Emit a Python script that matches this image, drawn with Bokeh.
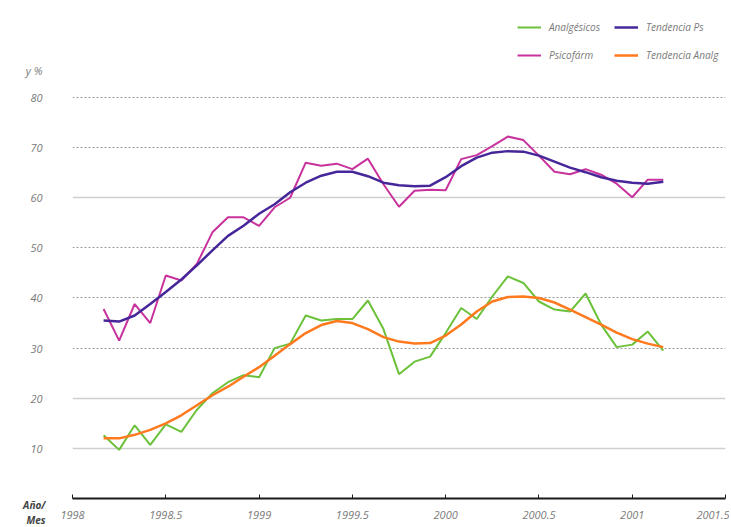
from bokeh.plotting import figure
from bokeh.models import Range1d, FixedTicker, Grid, Legend, LegendItem, Label
from bokeh.embed import file_html
from bokeh.resources import INLINE

# Monthly observations, March 1998 .. March 2001
month_index = list(range(37))
years = [1998 + (m + 2) / 12 for m in month_index]

analgesicos = [12.6, 9.7, 14.6, 10.7, 14.8, 13.3, 17.7, 21.0, 23.2, 24.6,
               24.2, 30.0, 30.9, 36.5, 35.5, 35.8, 35.8, 39.5, 33.8, 24.8,
               27.3, 28.3, 33.0, 38.0, 35.8, 40.3, 44.3, 43.0, 39.3, 37.7,
               37.3, 40.9, 34.7, 30.2, 30.7, 33.3, 29.5]
psicofarm = [37.8, 31.5, 38.8, 35.0, 44.5, 43.5, 46.8, 53.1, 56.1, 56.1,
             54.4, 58.1, 60.0, 67.0, 66.4, 66.8, 65.7, 67.8, 62.7, 58.2,
             61.4, 61.6, 61.5, 67.7, 68.5, 70.3, 72.2, 71.5, 68.4, 65.2,
             64.7, 65.7, 64.6, 62.8, 60.1, 63.6, 63.6]
tendencia_ps = [35.5, 35.3, 36.5, 38.8, 41.2, 43.7, 46.5, 49.5, 52.4, 54.4,
                56.8, 58.7, 61.1, 63.0, 64.4, 65.2, 65.2, 64.3, 63.0, 62.5,
                62.3, 62.4, 64.1, 66.3, 68.0, 69.0, 69.3, 69.2, 68.4, 67.2,
                66.0, 65.1, 64.1, 63.4, 63.0, 62.8, 63.2]
tendencia_analg = [12.0, 12.0, 12.7, 13.7, 15.0, 16.6, 18.6, 20.6, 22.3, 24.3,
                   26.2, 28.5, 30.8, 33.0, 34.6, 35.4, 35.0, 33.8, 32.2, 31.3,
                   30.9, 31.0, 32.5, 34.7, 37.3, 39.3, 40.2, 40.3, 40.0, 39.1,
                   37.7, 36.2, 34.7, 33.1, 31.8, 30.9, 30.2]

x_ticks = [1998, 1998.5, 1999, 1999.5, 2000, 2000.5, 2001, 2001.5]
x_tick_labels = ["1998", "1998.5", "1999", "1999.5", "2000", "2000.5", "2001", "2001.5"]
y_ticks = [10, 20, 30, 40, 50, 60, 70, 80]
y_dotted = [30, 40, 50, 70, 80]
y_solid = [10, 20, 60]
y_title = "y %"
y_title_at = 85.4          # the unit caption sits in the tick-label column above 80
x_title = "Año/\nMes"

series_names = ["Analgésicos", "Psicofárm", "Tendencia Ps", "Tendencia Analg"]

FONT = "Open Sans"
LABEL_COLOR = "#7a7a7a"

p = figure(width=729, height=526,
           x_range=Range1d(1998, 2001.5), y_range=Range1d(0, 99.35),
           output_backend="svg", toolbar_location=None,
           min_border_left=70, min_border_right=4,
           min_border_top=0, min_border_bottom=28)
p.outline_line_color = None
p.background_fill_color = "white"
p.xgrid.visible = False
p.ygrid.visible = False

p.add_layout(Grid(dimension=1, ticker=FixedTicker(ticks=y_dotted),
                  grid_line_color="#9a9a9a", grid_line_dash="2 2", grid_line_width=1))
p.add_layout(Grid(dimension=1, ticker=FixedTicker(ticks=y_solid),
                  grid_line_color="#cfcfcf", grid_line_width=1.5))

xa = p.xaxis[0]
xa.axis_label = None
xa.ticker = FixedTicker(ticks=x_ticks)
xa.major_label_overrides = dict(zip(x_ticks, x_tick_labels))
xa.axis_line_width = 2
xa.axis_line_color = "#1a1a1a"
xa.major_tick_in = 4
xa.major_tick_out = 0
xa.major_tick_line_color = "#1a1a1a"
xa.minor_tick_line_color = None
xa.major_label_text_font = FONT
xa.major_label_text_font_style = "italic"
xa.major_label_text_font_size = "11px"
xa.major_label_text_color = LABEL_COLOR
xa.major_label_standoff = 12

ya = p.yaxis[0]
ya.axis_label = None
ya.ticker = FixedTicker(ticks=y_ticks + [y_title_at])
ya.major_label_overrides = {y_title_at: y_title}
ya.axis_line_color = None
ya.major_tick_line_color = None
ya.minor_tick_line_color = None
ya.major_label_text_font = FONT
ya.major_label_text_font_style = "italic"
ya.major_label_text_font_size = "11px"
ya.major_label_text_color = LABEL_COLOR
ya.major_label_standoff = 24

r_green = p.line(years, analgesicos, line_color="#6cc13a", line_width=2)
r_pink = p.line(years, psicofarm, line_color="#c8329c", line_width=2)
r_purple = p.line(years, tendencia_ps, line_color="#46279a", line_width=2.5)
r_orange = p.line(years, tendencia_analg, line_color="#ff7a1f", line_width=2.5)

legend = Legend(items=[LegendItem(label=series_names[0], renderers=[r_green]),
                       LegendItem(label=series_names[1], renderers=[r_pink]),
                       LegendItem(label=series_names[2], renderers=[r_purple]),
                       LegendItem(label=series_names[3], renderers=[r_orange])],
                location=(445, 436), ncols=2,
                background_fill_alpha=0, border_line_color=None,
                label_text_font=FONT, label_text_font_style="italic",
                label_text_font_size="10px", label_text_color=LABEL_COLOR,
                glyph_width=24, glyph_height=12, label_height=12,
                label_standoff=8, spacing=14, margin=0, padding=6)
p.add_layout(legend)

p.add_layout(Label(x=45, y=1, x_units="screen", y_units="screen", text=x_title,
                   text_baseline="top", text_align="right", text_line_height=1.1,
                   text_font=FONT, text_font_style="bold italic",
                   text_font_size="10px", text_color="#444444"), "left")

open("out.html", "w").write(file_html(p, INLINE))
